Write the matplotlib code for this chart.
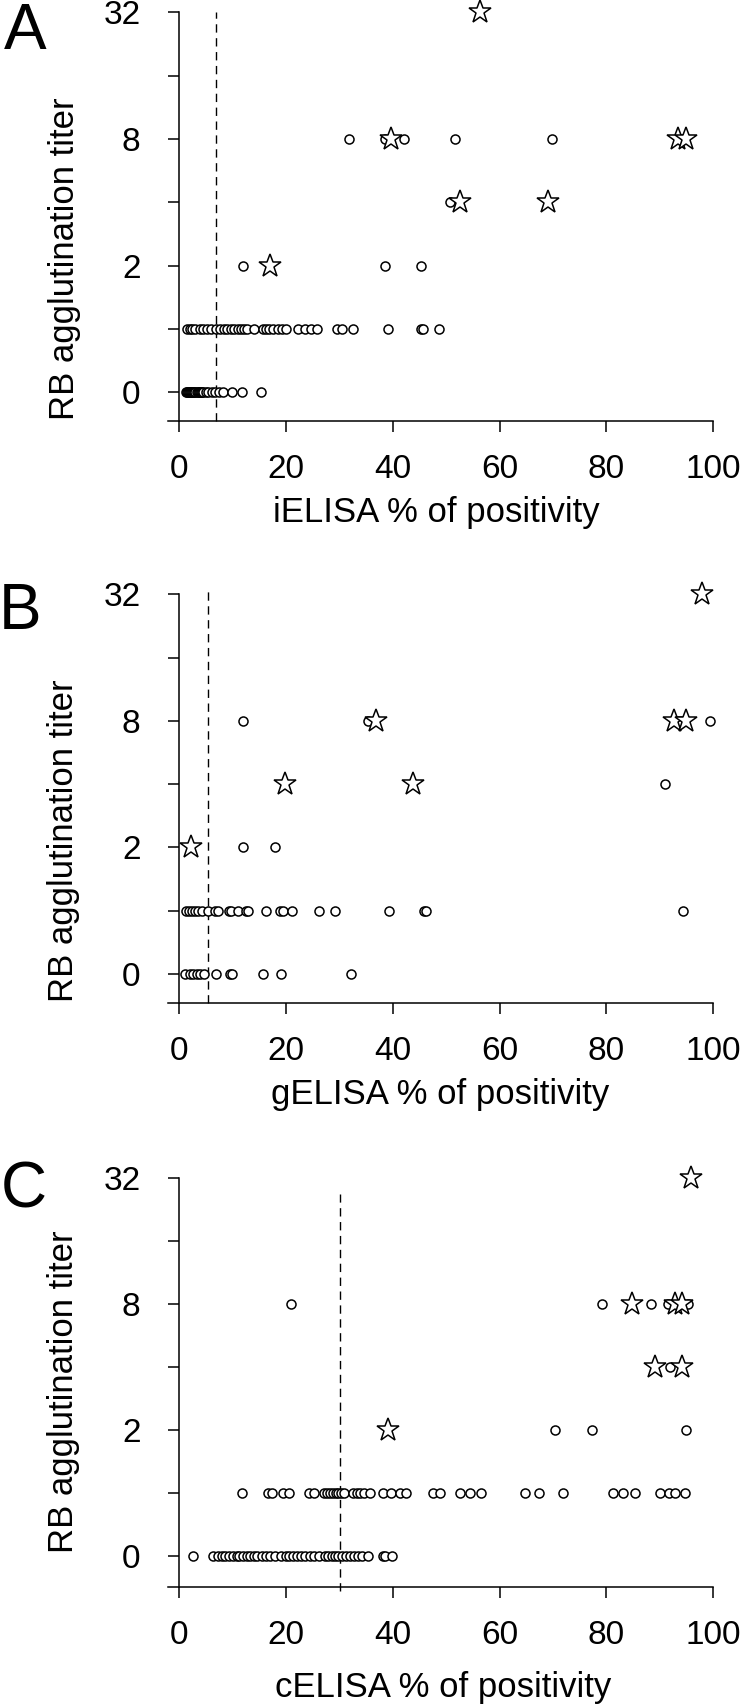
"""RB agglutination titer vs ELISA percent positivity, three panels"""
import matplotlib
matplotlib.use('Agg')
import matplotlib.pyplot as plt
import numpy as np

plt.rcParams['font.family'] = ['Liberation Sans', 'DejaVu Sans']

TITERS = [0, 1, 2, 4, 8, 16, 32]
TITER_LABELS = ['0', '', '2', '', '8', '', '32']
X_TICKS = [0, 20, 40, 60, 80, 100]

# panel A - iELISA (circles by titer row, stars separately)
ielisa_t0 = [1.2, 1.4, 1.6, 1.8, 2.0, 2.2, 2.4, 2.6, 2.8, 3.0, 3.2, 3.4, 3.6,
             3.8, 4.0, 4.2, 4.4, 5.0, 5.4, 6.05, 6.7, 7.5, 8.2, 9.8, 11.7, 15.3]
ielisa_t1 = [1.4, 1.9, 2.3, 2.9, 3.9, 4.5, 5.2, 6.0, 6.9, 7.6, 8.3, 9.0, 9.6,
             10.2, 10.9, 11.5, 12.1, 12.7, 13.9, 15.7, 16.2, 16.7, 17.5, 18.5,
             19.2, 19.9, 22.3, 23.6, 24.7, 25.8, 29.5, 30.4, 32.6, 39.0, 45.3,
             45.7, 48.7]
ielisa_t2 = [11.9, 38.6, 45.3]
ielisa_t4 = [50.7]
ielisa_t8 = [31.7, 38.6, 42.1, 51.6, 69.9]
ielisa_star_x = [16.9, 52.5, 69.0, 39.7, 93.5, 95.0, 56.3]
ielisa_star_titer = [2, 4, 4, 8, 8, 8, 32]
ielisa_cutoff = 6.8

# panel B - gELISA
gelisa_t0 = [1.1, 1.9, 2.5, 3.2, 3.9, 4.6, 6.9, 9.5, 9.9, 15.7, 19.0, 32.2]
gelisa_t1 = [1.2, 1.7, 2.3, 2.9, 3.5, 4.2, 5.4, 6.7, 7.3, 9.3, 9.7, 11.0,
             12.5, 12.9, 16.2, 18.9, 19.4, 21.1, 26.1, 29.1, 39.3, 45.8, 46.2,
             94.4]
gelisa_t2 = [11.9, 17.9]
gelisa_t4 = [91.0]
gelisa_t8 = [11.9, 35.4, 99.5]
gelisa_star_x = [2.25, 19.8, 43.7, 36.8, 92.6, 95.0, 98.0]
gelisa_star_titer = [2, 4, 4, 8, 8, 8, 32]
gelisa_cutoff = 5.4

# panel C - cELISA
celisa_t0 = [2.5, 6.3, 7.2, 8.0, 8.5, 9.3, 10.1, 10.8, 11.2, 11.9, 12.6, 13.2,
             13.9, 14.6, 15.5, 16.3, 17.0, 18.0, 19.1, 20.0, 20.6, 21.3, 22.0,
             22.8, 23.5, 24.4, 25.2, 26.1, 27.3, 27.9, 28.5, 29.2, 29.8, 30.4,
             31.2, 32.0, 32.7, 33.5, 34.3, 35.3, 38.1, 38.6, 39.9]
celisa_t1 = [11.8, 16.6, 17.3, 19.5, 20.5, 24.2, 25.3, 27.0, 27.6, 28.2, 28.8,
             29.3, 29.8, 30.3, 30.8, 32.5, 33.2, 33.9, 34.5, 35.7, 38.1, 39.7,
             41.4, 42.4, 47.5, 48.9, 52.5, 54.4, 56.5, 64.8, 67.3, 71.9, 81.3,
             83.2, 85.4, 90.0, 91.7, 92.8, 94.8]
celisa_t2 = [70.4, 77.4, 95.0]
celisa_t4 = [91.9]
celisa_t8 = [20.9, 79.2, 88.3, 91.5, 95.3]
celisa_star_x = [39.0, 89.2, 94.2, 84.9, 92.8, 94.2, 95.8]
celisa_star_titer = [2, 4, 4, 8, 8, 8, 32]
celisa_cutoff = 30.0


def titer_pos(titers):
    """Map titers onto evenly spaced rows"""
    return np.array([TITERS.index(t) for t in titers], dtype=float)


def draw_panel(fig, rect, ymin, rows, star_x, star_titer, cutoff, cut_span,
               xlabel, xlabel_xy, ylabel_xy):
    """One scatter panel"""
    ax = fig.add_axes(rect)
    for titer, xs in rows:
        ax.plot(xs, titer_pos([titer] * len(xs)), ls='none', marker='o',
                ms=6.5, mfc='white', mec='black', mew=1.1, clip_on=False,
                zorder=3)
    ax.plot(star_x, titer_pos(star_titer), ls='none', marker='*', ms=17,
            mfc='white', mec='black', mew=1.1, clip_on=False, zorder=4)
    ax.plot([cutoff, cutoff], cut_span, color='black', lw=1.0,
            ls=(0, (6, 4)), clip_on=False, zorder=2)

    ax.set_xlim(-2.1, 100)
    ax.set_ylim(ymin, 6)
    for side in ('top', 'right'):
        ax.spines[side].set_visible(False)
    ax.spines['left'].set_position(('data', 0))
    ax.spines['left'].set_linewidth(1.1)
    ax.spines['bottom'].set_linewidth(1.1)
    ax.set_xticks(X_TICKS)
    ax.set_yticks(range(len(TITERS)))
    ax.set_yticklabels(TITER_LABELS)
    ax.tick_params(axis='x', direction='out', length=8, width=1.1,
                   labelsize=24, pad=16)
    ax.tick_params(axis='y', direction='out', length=8, width=1.1,
                   labelsize=24, pad=20)

    ax.set_xlabel(xlabel, fontsize=25)
    ax.set_ylabel('RB agglutination titer', fontsize=25)
    ax.xaxis.label.set_verticalalignment('center')
    ax.yaxis.label.set_verticalalignment('center')
    ax.xaxis.set_label_coords(*xlabel_xy)
    ax.yaxis.set_label_coords(*ylabel_xy)
    return ax


def main():
    """Main operational flow"""
    fig = plt.figure(figsize=(7.5, 17.05), dpi=100)

    draw_panel(fig, [0.2243, 0.7530, 0.7264, 0.2397], -0.46,
               [(0, ielisa_t0), (1, ielisa_t1), (2, ielisa_t2),
                (4, ielisa_t4), (8, ielisa_t8)],
               ielisa_star_x, ielisa_star_titer, ielisa_cutoff, (-0.46, 6.0),
               'iELISA % of positivity', (0.4925, -0.223), (-0.190, 0.397))
    draw_panel(fig, [0.2243, 0.4118, 0.7264, 0.2396], -0.46,
               [(0, gelisa_t0), (1, gelisa_t1), (2, gelisa_t2),
                (4, gelisa_t4), (8, gelisa_t8)],
               gelisa_star_x, gelisa_star_titer, gelisa_cutoff, (-0.46, 6.05),
               'gELISA % of positivity', (0.499, -0.225), (-0.193, 0.397))
    draw_panel(fig, [0.2243, 0.0693, 0.7264, 0.2399], -0.49,
               [(0, celisa_t0), (1, celisa_t1), (2, celisa_t2),
                (4, celisa_t4), (8, celisa_t8)],
               celisa_star_x, celisa_star_titer, celisa_cutoff, (-0.55, 5.75),
               'cELISA % of positivity', (0.504, -0.247), (-0.192, 0.476))

    for letter, x, y in (('A', 0.033, 0.981), ('B', 0.027, 0.641),
                         ('C', 0.032, 0.302)):
        fig.text(x, y, letter, fontsize=46, ha='center', va='center')

    fig.savefig('out.png', dpi=100)


if __name__ == "__main__":
    main()
